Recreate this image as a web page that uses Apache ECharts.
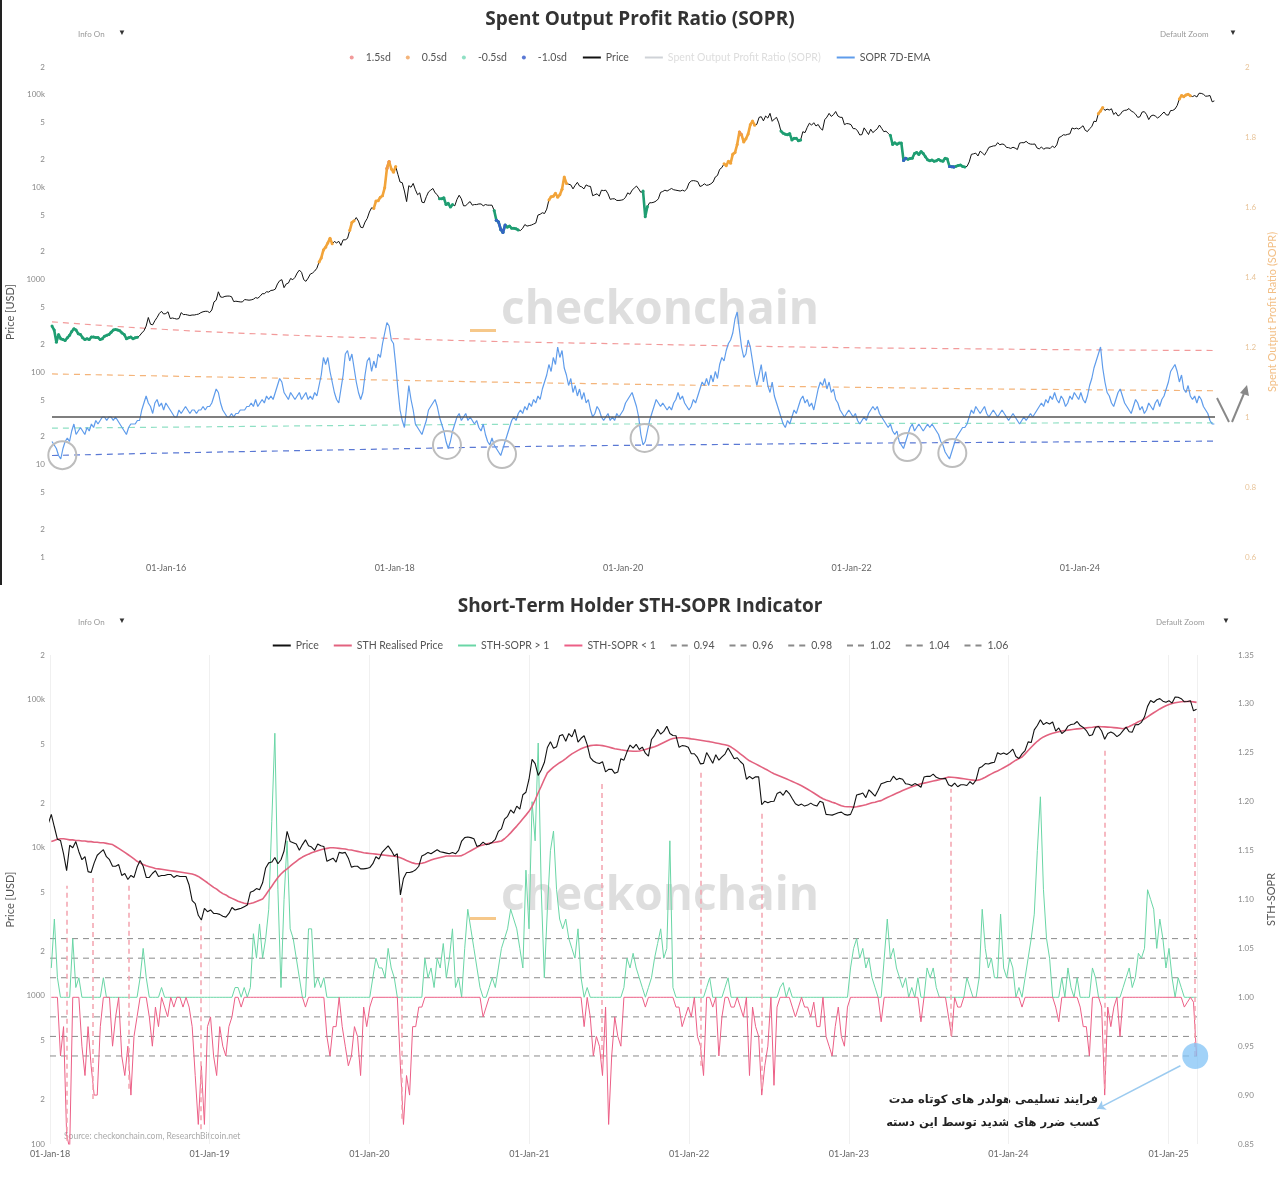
<!DOCTYPE html>
<html><head><meta charset="utf-8">
<script src="https://cdn.jsdelivr.net/npm/echarts@6/dist/echarts.min.js"></script>
<style>html,body{margin:0;padding:0;background:#fff}#c{width:1280px;height:1182px}</style>
</head><body><div id="c"></div>
<script>
// ---------- DATA (weekly, Thursdays starting 2015-01-01) ----------
const price2015=[315,285,210,255,230,225,220,235,250,275,295,285,260,255,235,225,230,225,240,240,237,237,225,230,245,250,255,270,285,290,285,280,265,255,230,235,240,230,235,238,247,265,280,315,390,330,325,360,390,430,455,425,430];
const price2016=[450,380,385,380,375,380,440,420,420,415,410,415,415,420,425,440,450,455,455,440,470,575,600,740,650,645,660,665,665,655,580,585,580,575,575,610,605,600,605,615,640,630,660,705,705,740,735,765,770,790,900,975];
const price2017=[1000,820,900,920,1030,1000,1060,1180,1270,1200,1000,960,1040,1150,1180,1240,1330,1550,1720,2100,2250,2500,2800,2450,2590,2500,2600,2350,2700,2700,2800,3400,4150,4350,4700,4300,3700,3650,4200,4600,5400,6000,5900,7100,7150,7800,8100,9900,16000,19000,15800,14500];
const price2018=[16800,13800,11400,11200,9100,7000,10400,10000,11000,9400,8300,8700,6900,6800,7900,8900,9300,9700,8700,8300,7500,7500,7700,6500,6700,6100,6500,6300,7400,8200,7500,6300,6300,6700,7000,6400,6500,6500,6600,6600,6300,6500,6400,6400,6400,5600,4400,4200,3500,3250,3900,3700];
const price2019=[3800,3600,3600,3550,3450,3400,3600,3950,3800,3850,3900,4000,4100,5000,5100,5300,5200,5800,7300,7900,8000,8600,7800,8300,9500,12900,11000,10800,10600,9600,10500,11300,10300,10100,9600,10600,10300,10200,8100,8300,8500,8000,9300,9200,9300,8500,7400,7500,7500,7200,7200,7250];
const price2020=[7350,7800,8700,8400,9300,9800,10300,9600,8800,9100,4800,6200,6800,6800,6900,7100,7500,8800,9000,9300,9100,9400,9700,9400,9300,9200,9100,9300,9100,9600,11100,11700,11800,11700,11500,10200,10400,10900,10500,10600,10900,11400,12900,13400,15600,16300,18000,17100,19100,18200,22800,23700,29000];
const price2021=[39500,37000,30800,33500,37600,47500,52000,47000,48000,57000,58000,52300,59000,56000,63000,51700,54800,57000,49700,40500,38500,37500,37000,38100,32500,33800,33900,31800,32500,39900,39000,44400,49300,47000,49900,46000,47800,43500,41500,53800,57400,63000,58400,61000,66000,59000,57200,57000,47600,48900,48600,47600];
const price2022=[43100,43100,40700,36800,37100,43900,40500,37200,42500,39000,41000,42900,47100,43400,39900,40500,38200,36500,29000,30300,29200,30100,30100,19500,20600,20100,20500,20600,23200,23800,22600,24400,23200,21400,19800,19300,19700,19100,19400,20000,19400,19100,20600,20200,16800,16700,16600,16900,17200,17400,16800,16600];
const price2023=[16800,18800,22700,23000,23400,21800,24600,23500,22300,24400,27000,27500,28000,28100,30400,28800,29400,29000,27000,26800,26300,27100,26500,25600,30000,30400,30300,31400,29900,29300,29200,29400,26600,26000,27300,25800,26600,26600,26300,27900,26800,28700,34500,35400,37000,36700,37400,37800,43800,42800,43600,42600];
const price2024=[44200,46300,41300,40000,43000,45300,51800,51300,62500,66800,73100,67800,70000,68500,70600,61300,64400,59000,61200,66200,67900,68400,71100,66800,64900,61800,57000,57900,65100,65800,61400,54000,59000,60400,59000,56200,58100,61800,65200,60700,60300,67600,67800,70200,76500,90000,98500,95600,99800,101500,97600,95800];
const price2025=[98200,94700,104000,103700,101400,96600,97000,98300,84000,86000];

const soprEma2015=[0.93,0.92,0.91,0.89,0.88,0.91,0.93,0.94,0.93,0.96,0.98,0.95,0.96,0.97,0.96,0.95,0.97,0.96,0.98,0.97,0.99,0.98,0.99,1.00,1.00,0.99,1.00,1.00,0.99,1.00,0.99,0.98,0.97,0.96,0.95,0.97,0.98,0.98,0.98,0.99,0.99,1.02,1.04,1.06,1.04,1.03,1.01,1.04,1.05,1.03,1.04,1.02,1.04];
const soprEma2016=[1.03,1.02,1.01,1.00,1.00,1.02,1.01,1.02,1.03,1.02,1.01,1.02,1.02,1.01,1.02,1.02,1.03,1.02,1.03,1.03,1.04,1.06,1.08,1.07,1.04,1.02,1.01,1.00,1.00,1.01,1.00,1.01,1.01,1.02,1.02,1.02,1.03,1.03,1.04,1.03,1.05,1.03,1.04,1.05,1.04,1.06,1.05,1.06,1.05,1.07,1.09,1.11];
const soprEma2017=[1.10,1.07,1.06,1.05,1.07,1.06,1.05,1.06,1.07,1.05,1.06,1.07,1.05,1.06,1.05,1.07,1.06,1.09,1.12,1.17,1.15,1.17,1.13,1.10,1.07,1.05,1.04,1.08,1.12,1.18,1.19,1.16,1.18,1.14,1.10,1.07,1.05,1.07,1.12,1.16,1.17,1.13,1.16,1.14,1.18,1.17,1.21,1.24,1.27,1.26,1.22,1.21];
const soprEma2018=[1.15,1.08,1.02,0.99,0.97,1.03,1.09,1.05,1.02,0.98,0.97,0.96,0.95,0.97,0.99,1.02,1.03,1.04,1.05,1.03,1.00,0.98,0.96,0.93,0.91,0.93,0.96,0.98,1.00,1.01,0.99,1.00,1.01,0.99,1.00,0.99,0.98,0.99,0.97,0.96,0.98,0.95,0.93,0.92,0.94,0.92,0.91,0.90,0.89,0.91,0.93,0.95];
const soprEma2019=[0.97,0.99,1.00,0.99,1.01,1.02,1.01,1.03,1.02,1.04,1.03,1.05,1.04,1.06,1.05,1.08,1.10,1.12,1.15,1.13,1.17,1.15,1.20,1.17,1.19,1.14,1.12,1.09,1.11,1.07,1.09,1.06,1.08,1.05,1.07,1.04,1.05,1.02,1.00,1.01,1.03,1.02,1.00,0.99,1.00,1.01,0.99,1.00,0.99,1.01,1.00,1.01];
const soprEma2020=[1.02,1.04,1.05,1.06,1.07,1.05,1.03,1.00,0.95,0.92,0.93,0.96,0.99,1.01,1.03,1.05,1.04,1.03,1.04,1.03,1.02,1.03,1.02,1.04,1.05,1.07,1.05,1.06,1.04,1.03,1.02,1.03,1.05,1.04,1.06,1.08,1.10,1.09,1.11,1.09,1.12,1.10,1.13,1.11,1.15,1.17,1.16,1.19,1.21,1.22,1.24,1.28,1.30];
const soprEma2021=[1.25,1.20,1.17,1.18,1.22,1.20,1.16,1.12,1.09,1.12,1.15,1.10,1.13,1.09,1.07,1.10,1.06,1.04,1.02,1.00,0.98,0.97,0.99,0.98,1.00,1.02,1.01,1.03,1.05,1.06,1.04,1.05,1.03,1.04,1.02,1.05,1.08,1.10,1.09,1.11,1.08,1.10,1.07,1.08,1.05,1.04,1.02,1.01,1.00,1.01,1.02,1.01];
const soprEma2022=[1.00,1.01,0.99,0.98,0.99,1.00,0.99,1.01,1.02,1.03,1.02,1.03,1.01,1.00,0.99,0.98,0.97,0.98,0.96,0.95,0.96,0.93,0.92,0.91,0.93,0.95,0.97,0.98,0.96,0.97,0.98,0.97,0.96,0.97,0.98,0.97,0.98,0.97,0.96,0.95,0.93,0.92,0.90,0.89,0.88,0.90,0.92,0.94,0.95,0.96,0.97,0.97];
const soprEma2023=[0.98,1.00,1.02,1.01,1.03,1.02,1.01,1.02,1.03,1.01,1.00,1.01,1.02,1.01,1.00,1.01,1.02,1.01,1.00,0.99,1.00,1.01,1.00,0.99,0.98,0.99,1.00,0.99,1.00,1.01,1.00,1.01,1.02,1.03,1.04,1.03,1.05,1.04,1.06,1.05,1.07,1.05,1.04,1.06,1.05,1.03,1.04,1.06,1.05,1.07,1.06,1.05];
const soprEma2024=[1.07,1.05,1.04,1.06,1.09,1.11,1.14,1.16,1.18,1.20,1.14,1.10,1.07,1.06,1.04,1.03,1.05,1.07,1.08,1.06,1.04,1.03,1.02,1.01,1.03,1.05,1.04,1.02,1.03,1.01,1.02,1.04,1.03,1.02,1.04,1.05,1.03,1.05,1.06,1.08,1.10,1.13,1.14,1.15,1.13,1.10,1.12,1.08,1.07,1.09,1.06,1.05];
const soprEma2025=[1.06,1.04,1.06,1.05,1.03,1.02,1.01,0.99,0.98,0.98];

// STH data (weekly from 2018-01-04)
const sthSopr2018=[1.03,1.08,1.02,0.94,0.97,0.86,0.845,1.06,1.01,1.02,0.95,0.92,0.97,0.93,0.90,0.90,0.97,1.02,1.00,1.00,0.95,0.98,1.00,0.94,0.92,0.95,0.90,0.96,0.98,1.02,1.05,1.02,0.98,0.95,0.99,0.97,1.01,0.99,0.98,1.00,0.99,1.00,1.00,0.99,1.00,0.99,0.97,0.92,0.87,0.93,0.87,0.97];
const sthSopr2019=[0.98,0.94,0.92,0.97,0.95,0.94,0.97,0.98,1.01,1.01,0.99,1.01,1.00,1.01,1.065,1.04,1.075,1.04,1.06,1.09,1.18,1.27,1.11,1.01,1.10,1.16,1.07,1.06,1.04,1.02,1.00,0.99,1.07,1.07,1.01,1.02,1.01,1.02,0.96,0.94,0.97,0.97,1.00,0.97,0.95,0.93,0.94,0.97,0.96,0.92,0.99,0.97];
const sthSopr2020=[0.99,1.02,1.04,1.03,1.03,1.02,1.05,1.03,1.02,1.00,0.93,0.87,0.92,0.90,0.97,0.97,0.99,0.99,1.04,1.02,1.03,1.01,1.04,1.03,1.055,1.02,1.04,1.07,1.01,1.02,1.00,1.05,1.09,1.07,1.05,1.03,1.01,0.98,0.99,1.01,1.02,1.01,1.03,1.05,1.06,1.07,1.09,1.08,1.07,1.05,1.03,1.13,1.07];
const sthSopr2021=[1.20,1.16,1.26,1.11,1.02,1.09,1.15,1.17,1.11,1.08,1.07,1.08,1.06,1.05,1.04,1.07,1.02,0.97,1.01,0.98,0.94,0.96,0.95,0.92,0.99,0.87,0.94,0.98,0.96,0.95,1.01,1.04,1.03,1.045,1.03,1.02,1.01,0.99,1.01,1.02,1.04,1.055,1.07,1.04,1.05,1.16,1.01,0.99,0.99,0.97,0.98,0.99];
const sthSopr2022=[0.98,1.00,0.96,0.95,0.92,1.01,1.02,0.99,1.00,0.94,0.98,1.01,1.02,0.99,0.99,1.00,0.99,0.98,1.00,0.92,0.99,0.97,0.96,0.90,0.93,0.95,1.00,0.91,0.99,1.01,1.015,1.00,1.01,0.99,0.98,0.99,1.00,0.99,0.99,0.98,0.995,0.97,0.97,1.00,0.96,0.95,0.94,0.97,0.99,0.96,0.95,0.99];
const sthSopr2023=[1.03,1.05,1.06,1.04,1.05,1.03,1.04,1.02,1.01,1.00,0.975,1.04,1.08,1.04,1.05,1.03,1.02,1.01,1.02,1.00,1.01,1.00,1.02,0.975,1.00,1.03,1.02,1.03,1.01,1.00,1.00,1.00,0.98,0.96,1.00,0.99,0.99,1.00,1.02,1.01,1.00,1.00,1.02,1.09,1.05,1.03,1.04,1.02,1.02,1.085,1.03,1.02];
const sthSopr2024=[1.04,1.03,1.00,1.01,0.99,1.02,1.04,1.06,1.085,1.15,1.205,1.11,1.06,1.04,1.00,0.99,0.975,1.02,1.00,1.03,1.01,1.00,1.02,0.99,0.97,0.97,0.94,1.03,1.02,1.00,0.99,0.90,0.99,0.97,0.99,1.00,0.96,1.01,1.02,1.03,1.01,1.02,1.045,1.04,1.05,1.11,1.10,1.09,1.05,1.08,1.06,1.03];
const sthSopr2025=[1.05,1.02,1.00,1.02,1.01,0.99,0.995,1.00,0.995,0.94];

const sthPrice2018=[11000,11200,11400,11500,11500,11400,11300,11300,11200,11200,11100,11100,11000,11000,10900,10900,10800,10800,10700,10600,10500,10200,9900,9600,9300,9000,8700,8400,8100,7900,7700,7550,7450,7350,7250,7200,7150,7100,7050,7000,6950,6900,6850,6800,6750,6700,6650,6550,6400,6200,6000,5800];
const sthPrice2019=[5600,5400,5250,5050,4900,4800,4650,4550,4450,4350,4280,4220,4180,4200,4250,4330,4420,4500,4800,5150,5500,5900,6300,6650,6950,7200,7500,7800,8100,8400,8650,8850,9050,9250,9400,9550,9700,9800,9900,10000,10000,9950,9900,9850,9800,9700,9650,9550,9450,9350,9250,9200];
const sthPrice2020=[9150,9100,9050,9000,8950,8900,8850,8800,8750,8700,8550,8400,8200,8050,7900,7800,7800,7850,7950,8100,8250,8400,8500,8600,8700,8800,8800,8800,8800,8800,8850,9050,9300,9550,9800,10050,10300,10450,10600,10700,10800,10900,11000,11100,11500,12000,12600,13300,14000,14800,15700,16600,17600];
const sthPrice2021=[19000,21000,23500,26000,29000,32000,33500,35000,36300,37500,38600,40000,41500,43000,44200,45400,46600,47500,48300,48900,49200,49300,49200,48900,48400,47800,47200,46600,46200,45800,45500,45200,45000,44800,44800,45000,45500,46100,46800,47400,48000,49000,50200,51400,52600,53700,54600,55000,55200,55200,55000,54700];
const sthPrice2022=[54300,54000,53600,53200,52800,52400,52000,51500,51000,50500,50000,49500,49000,47800,46300,44700,43000,41500,40000,38600,37700,36800,35900,35000,34100,33300,32400,31600,31000,30400,29800,29200,28600,28000,27400,26800,26200,25500,24800,24100,23400,22700,22000,21400,21000,20700,20300,20000,19600,19200,19000,18900];
const sthPrice2023=[18900,18800,18900,19100,19300,19500,19800,20100,20300,20600,20800,21300,21800,22300,22800,23300,23800,24300,24800,25300,25800,26200,26600,27000,27300,27600,27900,28200,28500,28800,29200,29600,30000,29900,29800,29600,29400,29200,29000,28800,28600,28400,28700,29200,29900,30700,31500,32300,33000,33800,34700,35600];
const sthPrice2024=[36600,37800,39000,40000,41000,43000,45300,47700,50000,52300,54300,56000,57200,58300,59200,60000,60700,61300,61800,62200,62600,63000,63400,63700,64000,64400,64800,65100,65500,65800,65600,65400,65200,65000,64700,64400,64000,63600,64500,65800,67300,69000,70800,72400,74000,76500,79000,81500,84000,86500,88700,90800];
const sthPrice2025=[92500,94000,95200,96000,96600,97000,97100,97000,96500,95800];

// SD bands of SOPR (dashed), anchor dates and values
const bandDates=['2015-01-01','2016-01-01','2017-01-01','2018-01-01','2019-01-01','2020-01-01','2021-01-01','2022-01-01','2023-01-01','2024-01-01','2025-03-06'];
const band15=[1.272,1.250,1.235,1.224,1.215,1.209,1.203,1.198,1.195,1.192,1.190];
const band05=[1.123,1.117,1.111,1.105,1.099,1.094,1.089,1.085,1.081,1.078,1.075];
const bandM05=[0.968,0.971,0.974,0.977,0.979,0.980,0.981,0.982,0.982,0.983,0.983];
const bandM10=[0.890,0.897,0.903,0.909,0.915,0.919,0.922,0.925,0.927,0.929,0.931];

// price colouring periods
const sd15Periods=[['2017-12-01','2017-12-20'],['2021-01-01','2021-01-14']];
const sd05Periods=[['2017-05-01','2017-06-15'],['2017-08-05','2017-08-25'],['2017-10-25','2018-01-05'],['2019-05-05','2019-07-05'],['2020-11-15','2021-02-25'],['2024-02-25','2024-03-20'],['2024-11-08','2024-12-20']];
const sdM05Periods=[['2015-01-01','2015-10-01'],['2018-05-20','2018-07-10'],['2018-11-10','2019-01-31'],['2020-03-05','2020-03-25'],['2021-05-15','2021-07-25'],['2022-05-05','2022-12-31']];
const sdM10Periods=[['2018-11-20','2018-12-20'],['2022-06-10','2022-06-25'],['2022-11-05','2022-11-25']];

// top chart circle annotations (date, SOPR)
const circleDates=['2015-02-03','2018-06-17','2018-12-10','2020-03-10','2022-06-28','2022-11-19'];
const circleValues=[0.891,0.920,0.894,0.940,0.914,0.897];

// bottom chart arrows (date, from price, to price)
const arrowDates=['2018-02-08','2018-04-08','2018-06-30','2018-12-12','2020-03-16','2021-06-16','2022-01-28','2022-06-17','2023-08-22','2024-08-07','2025-03-01'];
const arrowFrom=[105,201,236,126,148,375,337,236,537,236,393];
const arrowTo=[5530,6370,5700,3160,4740,27000,32600,17000,25000,46700,76000];
const sthThresholds=[0.94,0.96,0.98,1.02,1.04,1.06];

const topYTicks=[1,2,5,10,20,50,100,200,500,1000,2000,5000,10000,20000,50000,100000,200000];
const botYTicks=[100,200,500,1000,2000,5000,10000,20000,50000,100000,200000];

// ---------- BUILD ----------
const tp = s => Date.parse(s + 'T00:00:00Z');
const DAY = 86400000;
const price=[].concat(price2015,price2016,price2017,price2018,price2019,price2020,price2021,price2022,price2023,price2024,price2025);
const soprEma=[].concat(soprEma2015,soprEma2016,soprEma2017,soprEma2018,soprEma2019,soprEma2020,soprEma2021,soprEma2022,soprEma2023,soprEma2024,soprEma2025);
const sthSopr=[].concat(sthSopr2018,sthSopr2019,sthSopr2020,sthSopr2021,sthSopr2022,sthSopr2023,sthSopr2024,sthSopr2025);
const sthPrice=[].concat(sthPrice2018,sthPrice2019,sthPrice2020,sthPrice2021,sthPrice2022,sthPrice2023,sthPrice2024,sthPrice2025);
const t0=tp('2015-01-01');
const weekT=price.map((_,i)=>t0+i*7*DAY);
const sthT=sthSopr.map((_,j)=>tp('2018-01-04')+j*7*DAY);

const MONTHS=['Jan','Feb','Mar','Apr','May','Jun','Jul','Aug','Sep','Oct','Nov','Dec'];
function dateFmt(v){const d=new Date(v);return String(d.getUTCDate()).padStart(2,'0')+'-'+MONTHS[d.getUTCMonth()]+'-'+String(d.getUTCFullYear()).slice(2);}
function dateFmtEven(v){const d=new Date(v);return d.getUTCFullYear()%2===0?dateFmt(v):'';}
function logFmt(v){v=Math.round(v);const m={1:'1',10:'10',100:'100',1000:'1000',10000:'10k',100000:'100k'};if(m[v])return m[v];return String(v).charAt(0);}
function inPeriods(t,periods){return periods.some(p=>t>=tp(p[0])&&t<=tp(p[1]));}

const C15='#ec6a8a', C05='#f2a43a', CM05='#1f9e72', CM10='#3561c9';
function band(name,vals,color){return {name,type:'line',xAxisIndex:0,yAxisIndex:1,data:bandDates.map((d,k)=>[tp(d),vals[k]]),symbol:'none',smooth:true,lineStyle:{color,width:1.2,type:[6,5]},itemStyle:{color},silent:true,z:2};}
function overlay(name,periods,color){return {name,type:'line',xAxisIndex:0,yAxisIndex:0,data:price.map((p,i)=>[weekT[i],inPeriods(weekT[i],periods)?p:'-']),symbol:'circle',symbolSize:3,showSymbol:true,itemStyle:{color},lineStyle:{color,width:2.6},connectNulls:false,silent:true,z:6};}

const tMin1=tp('2015-01-01'), tMax1=tp('2025-03-08');
const tMin2=tp('2018-01-01'), tMax2=tp('2025-03-07');

const series=[
  band('1.5sd',band15,'#f29a9a'),
  band('0.5sd',band05,'#f4b47a'),
  band('-0.5sd',bandM05,'#8fe0c4'),
  band('-1.0sd',bandM10,'#5a78d4'),
  {name:'Spent Output Profit Ratio (SOPR)',type:'line',xAxisIndex:0,yAxisIndex:1,data:[],symbol:'none',lineStyle:{color:'#bbb'},itemStyle:{color:'#bbb'}},
  {name:'SOPR 7D-EMA',type:'line',xAxisIndex:0,yAxisIndex:1,data:soprEma.map((v,i)=>[weekT[i],v]),symbol:'none',lineStyle:{color:'#5f9ceb',width:1.2},itemStyle:{color:'#5f9ceb'},z:3,silent:true,
    markLine:{silent:true,symbol:['none','none'],label:{show:false},lineStyle:{color:'#555',width:1.5,type:'solid'},data:[{yAxis:1}]},
    markPoint:{silent:true,symbol:'circle',symbolSize:28,label:{show:false},itemStyle:{color:'rgba(255,255,255,0)',borderColor:'#bdbdbd',borderWidth:2},data:circleDates.map((d,k)=>({coord:[tp(d),circleValues[k]]}))}},
  {name:'Price',type:'line',xAxisIndex:0,yAxisIndex:0,data:price.map((p,i)=>[weekT[i],p]),symbol:'none',lineStyle:{color:'#111',width:1},itemStyle:{color:'#111'},z:4,silent:true},
  overlay('1.5sd',sd15Periods,C15),
  overlay('0.5sd',sd05Periods,C05),
  overlay('-0.5sd',sdM05Periods,CM05),
  overlay('-1.0sd',sdM10Periods,CM10),
  ...sthThresholds.map(v=>({name:v.toFixed(2),type:'line',xAxisIndex:1,yAxisIndex:3,data:[[tMin2,v],[tMax2,v]],symbol:'none',lineStyle:{color:'#8a8a8a',width:1,type:[6,5]},itemStyle:{color:'#8a8a8a'},silent:true,z:1})),
  {name:'STH-SOPR > 1',type:'line',xAxisIndex:1,yAxisIndex:3,data:sthSopr.map((v,j)=>[sthT[j],Math.max(v,1)]),symbol:'none',lineStyle:{color:'#6ad6a6',width:1},itemStyle:{color:'#6ad6a6'},z:2,silent:true},
  {name:'STH-SOPR < 1',type:'line',xAxisIndex:1,yAxisIndex:3,data:sthSopr.map((v,j)=>[sthT[j],Math.min(v,1)]),symbol:'none',lineStyle:{color:'#ec5f86',width:1},itemStyle:{color:'#ec5f86'},z:3,silent:true,
    markPoint:{silent:true,symbol:'circle',symbolSize:26,label:{show:false},itemStyle:{color:'rgba(130,195,245,0.75)'},data:[{coord:[tp('2025-03-03'),0.94]}]},
    markLine:{silent:true,symbol:['none','arrow'],symbolSize:8,label:{show:false},lineStyle:{color:'#9ccbf0',width:1.5,type:'solid'},data:[[{coord:[tp('2025-01-28'),0.930]},{coord:[tp('2024-07-22'),0.886]}]]}},
  {name:'Price',type:'line',xAxisIndex:1,yAxisIndex:2,data:price.map((p,i)=>[weekT[i],p]),symbol:'none',lineStyle:{color:'#111',width:1.1},itemStyle:{color:'#111'},z:6,silent:true,
    markLine:{silent:true,symbol:['none','triangle'],symbolSize:[0,9],label:{show:false},lineStyle:{color:'#f3a3ae',width:1.5,type:[5,4]},itemStyle:{color:'#f3a3ae'},data:arrowDates.map((d,k)=>[{coord:[tp(d),arrowFrom[k]]},{coord:[tp(d),arrowTo[k]]}])}},
  {name:'STH Realised Price',type:'line',xAxisIndex:1,yAxisIndex:2,data:sthPrice.map((p,j)=>[sthT[j],p]),symbol:'none',lineStyle:{color:'#e2627f',width:1.6},itemStyle:{color:'#e2627f'},z:5,silent:true}
];

const noDot={color:'rgba(0,0,0,0)',borderWidth:0,opacity:0};
const lineItem=n=>({name:n,itemStyle:noDot});
const axLbl={color:'#888',fontSize:8,fontFamily:'Lato'};
const option={
  animation:false,
  backgroundColor:'#fff',
  textStyle:{fontFamily:'Lato'},
  title:[
    {text:'Spent Output Profit Ratio (SOPR)',left:'center',top:5,textStyle:{fontFamily:'Open Sans',fontSize:19,fontWeight:'bold',color:'#333'}},
    {text:'Short-Term Holder STH-SOPR Indicator',left:'center',top:592,textStyle:{fontFamily:'Open Sans',fontSize:19,fontWeight:'bold',color:'#333'}}
  ],
  legend:[
    {top:47,left:'center',itemGap:15,itemWidth:18,itemHeight:4,inactiveColor:'#ddd',textStyle:{fontSize:10.5,color:'#555',fontFamily:'Lato'},
     data:[{name:'1.5sd',icon:'circle'},{name:'0.5sd',icon:'circle'},{name:'-0.5sd',icon:'circle'},{name:'-1.0sd',icon:'circle'},lineItem('Price'),lineItem('Spent Output Profit Ratio (SOPR)'),lineItem('SOPR 7D-EMA')],
     selected:{'Spent Output Profit Ratio (SOPR)':false}},
    {top:635,left:'center',itemGap:14,itemWidth:18,itemHeight:4,textStyle:{fontSize:10.5,color:'#555',fontFamily:'Lato'},
     data:['Price','STH Realised Price','STH-SOPR > 1','STH-SOPR < 1','0.94','0.96','0.98','1.02','1.04','1.06'].map(lineItem)}
  ],
  grid:[
    {left:52,right:65,top:67,height:490,outerBoundsMode:'none'},
    {left:50,right:83,top:655,height:489,outerBoundsMode:'none'}
  ],
  xAxis:[
    {type:'time',gridIndex:0,min:tMin1,max:tMax1,minInterval:365*DAY,maxInterval:366*DAY,axisLine:{show:false},axisTick:{show:false},splitLine:{show:false},
     axisLabel:{formatter:dateFmtEven,color:'#666',fontSize:9,margin:7,fontFamily:'Lato',hideOverlap:false}},
    {type:'time',gridIndex:1,min:tMin2,max:tMax2,minInterval:365*DAY,maxInterval:366*DAY,axisLine:{show:false},axisTick:{show:false},splitLine:{show:true,lineStyle:{color:'#f0f0f0',width:1}},
     axisLabel:{formatter:dateFmt,color:'#666',fontSize:9,margin:6,fontFamily:'Lato'}}
  ],
  yAxis:[
    {type:'log',logBase:10,gridIndex:0,min:1,max:200000,axisLine:{show:false},axisTick:{show:false},splitLine:{show:false},
     axisLabel:Object.assign({customValues:topYTicks,formatter:logFmt,margin:7},axLbl),
     name:'Price [USD]',nameLocation:'middle',nameGap:33,nameTextStyle:{color:'#555',fontSize:11,fontFamily:'Lato'}},
    {type:'value',gridIndex:0,position:'right',min:0.6,max:2,interval:0.2,axisLine:{show:false},axisTick:{show:false},splitLine:{show:false},
     axisLabel:{color:'#e8c49a',fontSize:8,margin:30,fontFamily:'Lato'},
     name:'Spent Output Profit Ratio (SOPR)',nameLocation:'middle',nameGap:51,nameTextStyle:{color:'#f2bf86',fontSize:11,fontFamily:'Lato'}},
    {type:'log',logBase:10,gridIndex:1,min:100,max:200000,axisLine:{show:false},axisTick:{show:false},splitLine:{show:false},
     axisLabel:Object.assign({customValues:botYTicks,formatter:logFmt,margin:5},axLbl),
     name:'Price [USD]',nameLocation:'middle',nameGap:32,nameTextStyle:{color:'#555',fontSize:11,fontFamily:'Lato'}},
    {type:'value',gridIndex:1,position:'right',min:0.85,max:1.35,interval:0.05,axisLine:{show:false},axisTick:{show:false},splitLine:{show:false},
     axisLabel:{color:'#888',fontSize:8,margin:41,formatter:v=>v.toFixed(2),fontFamily:'Lato'},
     name:'STH-SOPR',nameLocation:'middle',nameGap:69,nameTextStyle:{color:'#555',fontSize:11,fontFamily:'Lato'}}
  ],
  graphic:[
    {type:'rect',shape:{x:0,y:0,width:2,height:585},style:{fill:'#222'},silent:true},
    {type:'text',x:78,y:30,style:{text:'Info On',fill:'#999',fontSize:8,fontFamily:'Lato'}},
    {type:'text',x:118,y:29,style:{text:'▼',fill:'#333',fontSize:8}},
    {type:'text',x:1160,y:30,style:{text:'Default Zoom',fill:'#999',fontSize:8,fontFamily:'Lato'}},
    {type:'text',x:1229,y:29,style:{text:'▼',fill:'#333',fontSize:8}},
    {type:'text',x:78,y:618,style:{text:'Info On',fill:'#999',fontSize:8,fontFamily:'Lato'}},
    {type:'text',x:118,y:617,style:{text:'▼',fill:'#333',fontSize:8}},
    {type:'text',x:1156,y:618,style:{text:'Default Zoom',fill:'#999',fontSize:8,fontFamily:'Lato'}},
    {type:'text',x:1222,y:617,style:{text:'▼',fill:'#333',fontSize:8}},
    {type:'text',x:660,y:311,z:0,style:{text:'checkonchain',fill:'rgba(190,190,190,0.5)',fontSize:46,fontWeight:'bold',fontFamily:'Open Sans',align:'center',verticalAlign:'middle'},silent:true},
    {type:'rect',shape:{x:470,y:329,width:26,height:3},style:{fill:'#f6c88a'},silent:true},
    {type:'text',x:660,y:897,z:0,style:{text:'checkonchain',fill:'rgba(190,190,190,0.5)',fontSize:46,fontWeight:'bold',fontFamily:'Open Sans',align:'center',verticalAlign:'middle'},silent:true},
    {type:'rect',shape:{x:470,y:917,width:26,height:3},style:{fill:'#f6c88a'},silent:true},
    {type:'text',x:64,y:1132,style:{text:'Source: checkonchain.com, ResearchBitcoin.net',fill:'#aaa',fontSize:8.5,fontFamily:'Lato'}},
    {type:'polyline',shape:{points:[[1217,398],[1229,422]]},style:{stroke:'#888',lineWidth:2}},
    {type:'polyline',shape:{points:[[1232,422],[1245,391]]},style:{stroke:'#888',lineWidth:2}},
    {type:'polygon',shape:{points:[[1247,385],[1240,393],[1249,396]]},style:{fill:'#888'}},
    {type:'text',x:1098,y:1094,style:{text:'فرایند تسلیمی هولدر های کوتاه مدت',fill:'#222',fontSize:11.5,fontWeight:'bold',fontFamily:'DejaVu Sans',align:'right'}},
    {type:'text',x:1100,y:1117,style:{text:'کسب ضرر های شدید توسط این دسته',fill:'#222',fontSize:11.5,fontWeight:'bold',fontFamily:'DejaVu Sans',align:'right'}}
  ],
  series
};
const chart=echarts.init(document.getElementById('c'),null,{width:1280,height:1182});
chart.setOption(option);
</script></body></html>
